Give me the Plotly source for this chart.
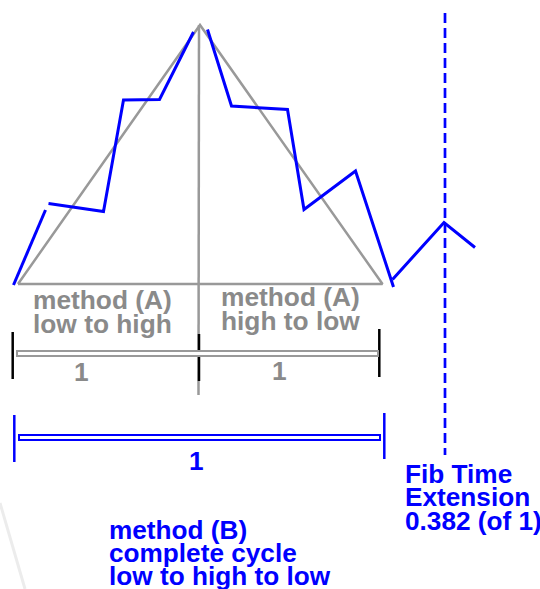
import plotly.graph_objects as go

# ---- data (diagram units, x to the right, y downward) ----
wave_seg1_x = [13.5, 45.5]
wave_seg1_y = [285, 210]
wave_seg2_x = [48.5, 103.5, 123.5, 159.5, 193.5]
wave_seg2_y = [203.5, 211.5, 100, 99.5, 32]
wave_seg3_x = [207.5, 231.5, 287.5, 304, 355.5, 393.5]
wave_seg3_y = [29.5, 106, 109.5, 209.5, 171, 287]
wave_seg4_x = [392.5, 444, 475]
wave_seg4_y = [279.5, 222.5, 247.5]

tri_x = [18, 200, 382.5, 18]
tri_y = [284, 25, 284, 284]
apex_vline_x = [199, 198.5]
apex_vline_y = [25, 395]

fib_dash_x = [445, 445]
fib_dash_y = [13, 455]

a_bar = dict(x0=17, x1=378, y0=351, y1=356)
a_ticks_x = [12.7, 199, 379.3]
a_ticks_y0 = [332, 334, 329]
a_ticks_y1 = [379, 381, 377]

b_bar = dict(x0=19, x1=380, y0=435, y1=440)
b_ticks_x = [14.3, 384.3]
b_ticks_y0 = [415, 413]
b_ticks_y1 = [462, 459]

faint_x = [0, 25]
faint_y = [503, 589]

BLUE = "#0000ff"
GRAY = "#999999"
TGRAY = "#8a8a8a"
FONT = "Liberation Sans"
FS_GRAY = 26.3
FS_BLUE = 26.2

fig = go.Figure()

def line(xs, ys, color, width, dash="solid"):
    fig.add_trace(go.Scatter(x=xs, y=ys, mode="lines",
                             line=dict(color=color, width=width, dash=dash),
                             hoverinfo="skip", showlegend=False))

line(faint_x, faint_y, "#ececec", 3)
line(tri_x, tri_y, GRAY, 2.5)
line(apex_vline_x, apex_vline_y, GRAY, 2.5)
for sx, sy in [(wave_seg1_x, wave_seg1_y), (wave_seg2_x, wave_seg2_y),
               (wave_seg3_x, wave_seg3_y), (wave_seg4_x, wave_seg4_y)]:
    line(sx, sy, BLUE, 3)
line(fib_dash_x, fib_dash_y, BLUE, 2.7, dash="10px,5px")

# measurement bars
fig.add_shape(type="rect", **a_bar, line=dict(color=GRAY, width=2), fillcolor="white")
for x, y0, y1 in zip(a_ticks_x, a_ticks_y0, a_ticks_y1):
    line([x, x], [y0, y1], "black", 2.5)
fig.add_shape(type="rect", **b_bar, line=dict(color=BLUE, width=2), fillcolor="white")
for x, y0, y1 in zip(b_ticks_x, b_ticks_y0, b_ticks_y1):
    line([x, x], [y0, y1], BLUE, 2.5)

def text(s, x, baseline, color, size, xanchor="center"):
    fig.add_annotation(x=x, y=baseline - 0.35 * size, text="<b>" + s + "</b>",
                       showarrow=False, xanchor=xanchor, yanchor="middle",
                       font=dict(family=FONT, size=size, color=color))

text("method (A)", 102, 309.5, TGRAY, FS_GRAY)
text("low to high", 102, 333.5, TGRAY, FS_GRAY)
text("method (A)", 290, 306.5, TGRAY, FS_GRAY)
text("high to low", 290, 330, TGRAY, FS_GRAY)
text("1", 81.7, 381.5, TGRAY, FS_GRAY)
text("1", 279.5, 380.5, TGRAY, FS_GRAY)
text("1", 196.7, 470, BLUE, FS_BLUE)

text("method (B)", 107.3, 539.3, BLUE, FS_BLUE, xanchor="left")
text("complete cycle", 107.3, 562.3, BLUE, FS_BLUE, xanchor="left")
text("low to high to low", 107.3, 585.3, BLUE, FS_BLUE, xanchor="left")

text("Fib Time", 402.7, 483.3, BLUE, FS_BLUE, xanchor="left")
text("Extension", 402.7, 506.3, BLUE, FS_BLUE, xanchor="left")
text("0.382 (of 1)", 402.7, 530, BLUE, FS_BLUE, xanchor="left")

fig.update_layout(width=540, height=589, margin=dict(l=0, r=0, t=0, b=0),
                  paper_bgcolor="white", plot_bgcolor="white",
                  xaxis=dict(range=[0, 540], visible=False, fixedrange=True),
                  yaxis=dict(range=[589, 0], visible=False, fixedrange=True),
                  showlegend=False)

fig.write_html("out.html", config={"displayModeBar": False},
               post_script="document.body.style.margin='0';document.body.style.overflow='hidden';")
